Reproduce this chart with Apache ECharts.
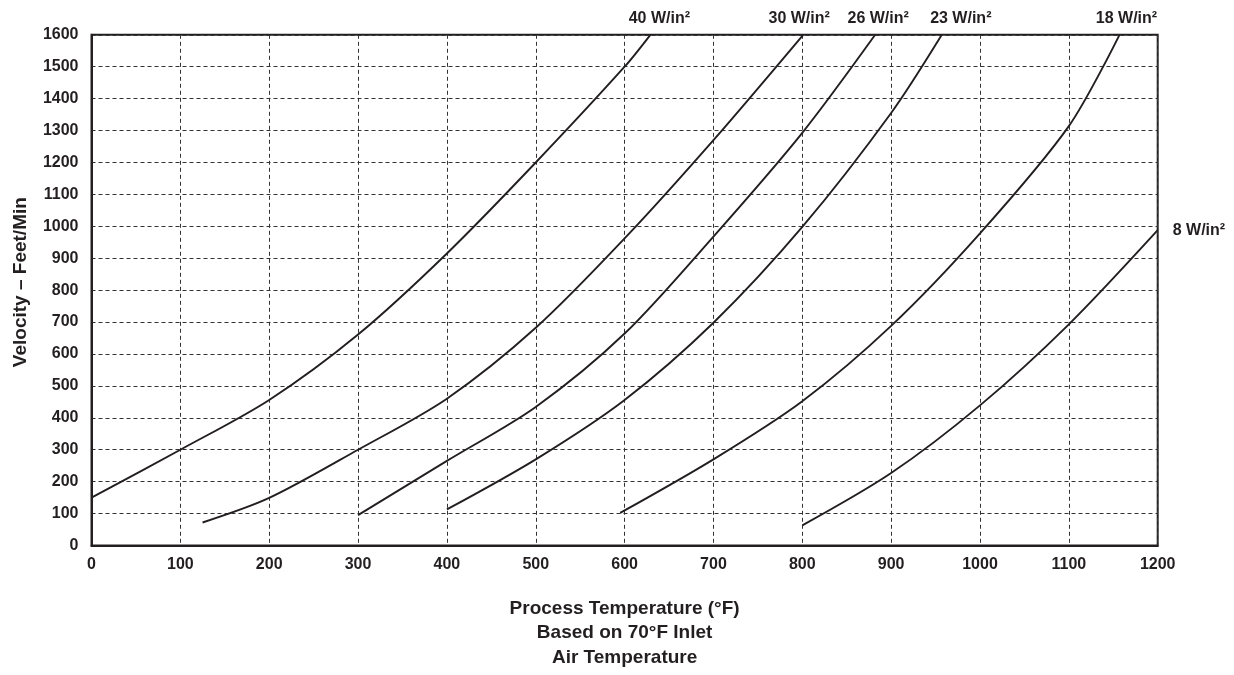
<!DOCTYPE html>
<html>
<head>
<meta charset="utf-8">
<script src="https://cdn.jsdelivr.net/npm/echarts@6/dist/echarts.min.js"></script>
<style>
html,body{margin:0;padding:0;background:#fff;}
#chart{width:1234px;height:675px;}
</style>
</head>
<body>
<div id="chart"></div>
<script>
// Process temperature (°F) and velocity (feet/min) for each watt density curve
const seriesNames = ['40 W/in²', '30 W/in²', '26 W/in²', '23 W/in²', '18 W/in²', '8 W/in²'];
const temp40 = [0, 100, 200, 300, 400, 500, 600, 629];
const vel40  = [150, 300, 456, 661, 915, 1200, 1500, 1600];
const temp30 = [125, 200, 300, 400, 500, 600, 700, 801];
const vel30  = [72, 149, 300, 460, 682, 962, 1270, 1600];
const temp26 = [300, 400, 500, 600, 700, 800, 882];
const vel26  = [95, 265, 434, 664, 968, 1293, 1600];
const temp23 = [400, 500, 600, 700, 800, 900, 957];
const vel23  = [113, 270, 456, 698, 998, 1355, 1600];
const temp18 = [595, 700, 800, 900, 1000, 1100, 1157];
const vel18  = [102, 270, 452, 688, 978, 1314, 1600];
const temp8  = [800, 900, 1000, 1100, 1200];
const vel8   = [63, 227, 439, 693, 988];

const xTicks = [0, 100, 200, 300, 400, 500, 600, 700, 800, 900, 1000, 1100, 1200];
const yTicks = [0, 100, 200, 300, 400, 500, 600, 700, 800, 900, 1000, 1100, 1200, 1300, 1400, 1500, 1600];

const temps = [temp40, temp30, temp26, temp23, temp18, temp8];
const vels = [vel40, vel30, vel26, vel23, vel18, vel8];
const labelOffsets = [[9, 0], [-4, 0], [3, 0], [19, 0], [7, 0], [0, 0]];

const ink = '#231f20';
const font = '"Liberation Sans", Arial, Helvetica, sans-serif';

const series = seriesNames.map((name, i) => {
  const xs = temps[i], ys = vels[i];
  const data = xs.map((x, j) => {
    const item = { value: [x, ys[j]] };
    if (j === xs.length - 1) {
      const isRight = (i === 5);
      item.label = {
        show: true,
        formatter: name,
        position: isRight ? 'right' : 'top',
        distance: isRight ? 15 : 8,
        offset: labelOffsets[i],
        color: ink,
        fontFamily: font,
        fontWeight: 'bold',
        fontSize: 16
      };
    }
    return item;
  });
  return {
    name: name,
    type: 'line',
    data: data,
    smooth: 0.3,
    symbol: 'circle',
    symbolSize: 0,
    showSymbol: true,
    silent: true,
    lineStyle: { color: ink, width: 1.9 },
    itemStyle: { color: ink },
    label: { show: false },
    emphasis: { disabled: true }
  };
});

const chart = echarts.init(document.getElementById('chart'));
chart.setOption({
  animation: false,
  backgroundColor: '#fff',
  grid: { left: 91.5, right: 76.3, top: 34.8, bottom: 125.3, show: true, borderColor: ink, borderWidth: 2, backgroundColor: 'transparent' },
  xAxis: {
    type: 'value',
    min: xTicks[0],
    max: xTicks[xTicks.length - 1],
    interval: 100,
    name: 'Process Temperature (°F)\nBased on 70°F Inlet\nAir Temperature',
    nameLocation: 'middle',
    nameGap: 51,
    nameTextStyle: { color: ink, fontFamily: font, fontWeight: 'bold', fontSize: 19, lineHeight: 24.5 },
    axisLine: { show: true, lineStyle: { color: ink, width: 2 } },
    axisTick: { show: false },
    axisLabel: { color: ink, fontFamily: font, fontWeight: 'bold', fontSize: 16, margin: 11, formatter: v => String(v) },
    splitLine: { show: true, lineStyle: { color: '#333', width: 1, type: [4, 3] } }
  },
  yAxis: {
    type: 'value',
    min: yTicks[0],
    max: yTicks[yTicks.length - 1],
    interval: 100,
    name: 'Velocity – Feet/Min',
    nameLocation: 'middle',
    nameGap: 61,
    nameTextStyle: { color: ink, fontFamily: font, fontWeight: 'bold', fontSize: 19, padding: [0, 0, 0, 16] },
    axisLine: { show: true, lineStyle: { color: ink, width: 2 } },
    axisTick: { show: false },
    axisLabel: { color: ink, fontFamily: font, fontWeight: 'bold', fontSize: 16, margin: 13, formatter: v => String(v) },
    splitLine: { show: true, lineStyle: { color: '#333', width: 1, type: [4, 3] } }
  },
  series: series
});
</script>
</body>
</html>
